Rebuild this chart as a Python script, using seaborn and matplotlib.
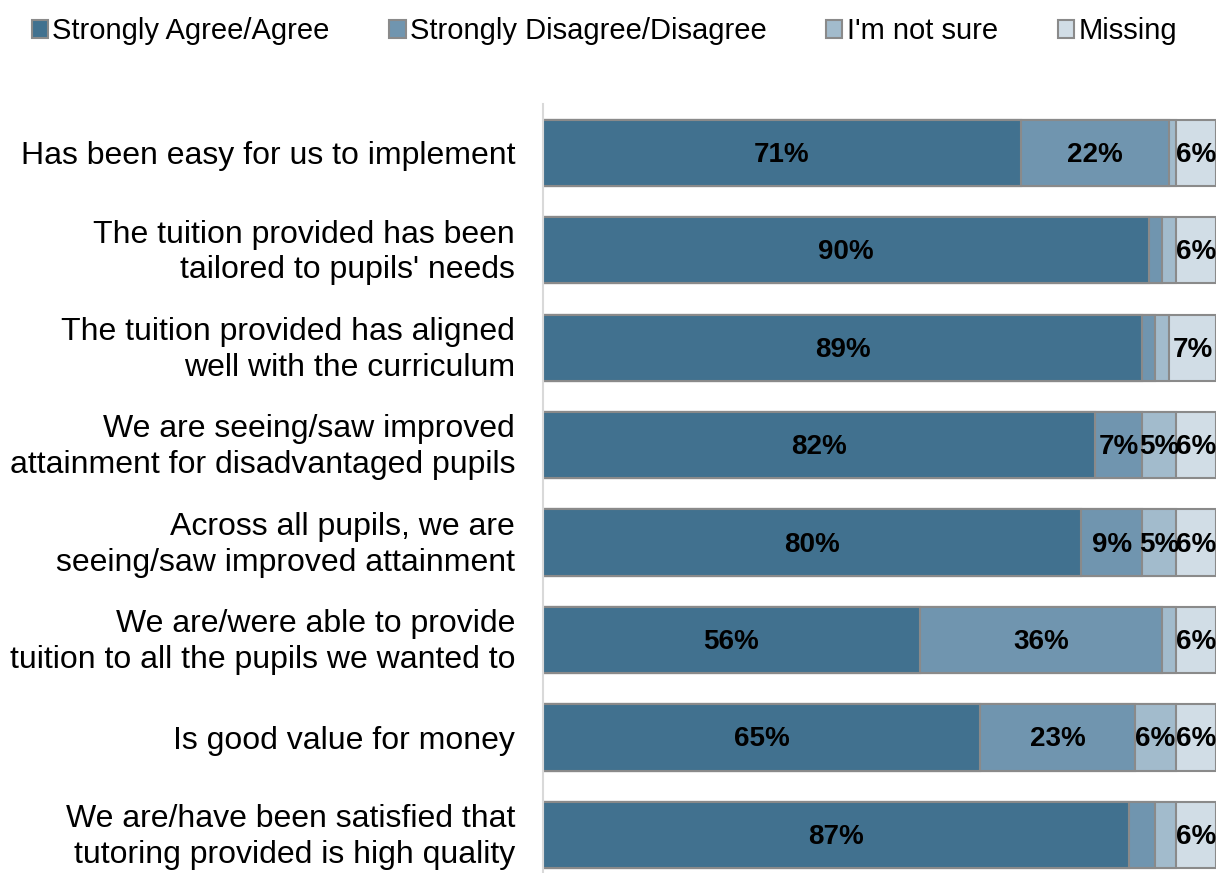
import matplotlib
matplotlib.use("Agg")
import matplotlib.pyplot as plt
from matplotlib.patches import Patch
from matplotlib.transforms import ScaledTranslation
import numpy as np
import pandas as pd
import seaborn as sns

categories = [
    "Has been easy for us to implement",
    "The tuition provided has been\ntailored to pupils' needs",
    "The tuition provided has aligned\nwell with the curriculum",
    "We are seeing/saw improved\nattainment for disadvantaged pupils",
    "Across all pupils, we are\nseeing/saw improved attainment",
    "We are/were able to provide\ntuition to all the pupils we wanted to",
    "Is good value for money",
    "We are/have been satisfied that\ntutoring provided is high quality",
]
agree = [71, 90, 89, 82, 80, 56, 65, 87]
disagree = [22, 2, 2, 7, 9, 36, 23, 4]
not_sure = [1, 2, 2, 5, 5, 2, 6, 3]
missing = [6, 6, 7, 6, 6, 6, 6, 6]

series_names = ["Strongly Agree/Agree", "Strongly Disagree/Disagree", "I'm not sure", "Missing"]
series_values = [agree, disagree, not_sure, missing]
colors = ["#41718F", "#7095AF", "#A2BBCC", "#D1DDE6"]
edge = "#8A8A8A"

sns.set_theme(style="white")
plt.rcParams["font.family"] = ["Liberation Sans", "DejaVu Sans"]
plt.rcParams["text.color"] = "black"

df = pd.DataFrame({"category": categories})
vals = np.array(series_values, dtype=float)
cum = np.cumsum(vals, axis=0)

fig = plt.figure(figsize=(12.16, 8.73), dpi=100)
ax = fig.add_axes([543 / 1216, 0.0, 1 - 543 / 1216, 1 - 104 / 873])

# Draw the stacked segments from the full total down, so each layer covers the next
for k in range(len(series_names) - 1, -1, -1):
    df["value"] = cum[k]
    sns.barplot(data=df, x="value", y="category", orient="h", color=colors[k],
                saturation=1, edgecolor=edge, linewidth=1.5, width=0.68, ax=ax)

# Segment value labels
for i in range(len(categories)):
    start = 0.0
    for k in range(len(series_names)):
        v = vals[k, i]
        if v >= 5:
            ax.text(start + v / 2, i + 0.02, f"{int(v)}%", ha="center", va="center",
                    fontsize=20, fontweight="bold", color="black")
        start += v

ax.set_xlim(0, 100)
ax.set_ylim(7.39, -0.5)
ax.set_xlabel("")
ax.set_ylabel("")
ax.set_xticks([])
ax.tick_params(axis="y", length=0, pad=20, labelsize=23, labelcolor="black")
lift = ScaledTranslation(0, 3 / 72, fig.dpi_scale_trans)
for lab in ax.get_yticklabels():
    lab.set_horizontalalignment("right")
    lab.set_multialignment("right")
    lab.set_linespacing(1.25)
    if "\n" in lab.get_text():
        lab.set_transform(lab.get_transform() + lift)
for s in ["top", "right", "bottom"]:
    ax.spines[s].set_visible(False)
ax.spines["left"].set_color("#D9D9D9")
ax.spines["left"].set_linewidth(1.5)

handles = [Patch(facecolor=c, edgecolor=edge, linewidth=1.5) for c in colors]
leg = fig.legend(handles, series_names, loc="center", bbox_to_anchor=(0.497, 0.964),
                 ncol=4, frameon=False, fontsize=21, handlelength=0.55, handleheight=0.55,
                 handletextpad=0.15, columnspacing=2.05)
for t in leg.get_texts():
    t.set_color("black")

fig.savefig("out.png", dpi=100)
